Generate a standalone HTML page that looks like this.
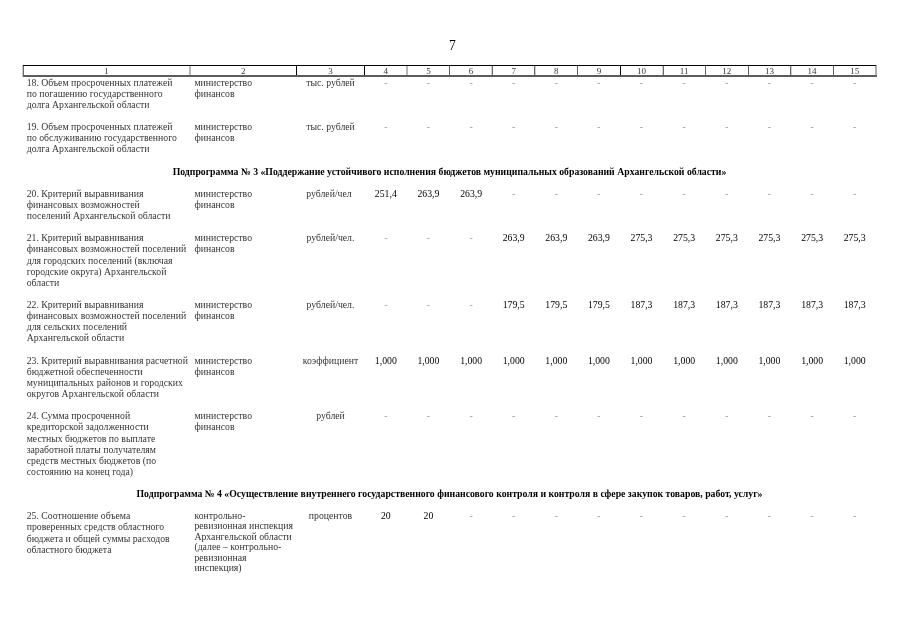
<!DOCTYPE html>
<html><head><meta charset="utf-8"><style>
html,body{margin:0;padding:0;background:#fff;}
body{width:905px;height:640px;position:relative;overflow:hidden;font-family:"Liberation Serif",serif;color:#363636;}
.wrap{position:absolute;left:0;top:0;width:905px;height:640px;filter:grayscale(1);}
.t{position:absolute;white-space:nowrap;font-size:9.75px;line-height:11.12px;}
.c{position:absolute;white-space:nowrap;font-size:9.75px;line-height:11.12px;text-align:center;}
.h{position:absolute;left:-3px;width:905px;text-align:center;white-space:nowrap;font-weight:bold;font-size:9.76px;line-height:11.12px;color:#000;}
.ln{position:absolute;background:#000;}
</style></head><body><div class="wrap">

<div class="c" style="left:402.5px;width:100px;top:38.41px;font-size:13.6px;line-height:16px;color:#000">7</div>
<div class="ln" style="left:22px;top:65px;width:1px;height:12px;background:#c8c8c8"></div>
<div class="ln" style="left:23px;top:65px;width:1px;height:12px;background:#6a6a6a"></div>
<div class="ln" style="left:189px;top:65px;width:1px;height:12px;background:#b8b8b8"></div>
<div class="ln" style="left:190px;top:65px;width:1px;height:12px;background:#b8b8b8"></div>
<div class="ln" style="left:296px;top:65px;width:1px;height:12px;background:#000"></div>
<div class="ln" style="left:364px;top:65px;width:1px;height:12px;background:#000"></div>
<div class="ln" style="left:406px;top:65px;width:1px;height:12px;background:#b8b8b8"></div>
<div class="ln" style="left:407px;top:65px;width:1px;height:12px;background:#b8b8b8"></div>
<div class="ln" style="left:449px;top:65px;width:1px;height:12px;background:#5c5c5c"></div>
<div class="ln" style="left:491px;top:65px;width:1px;height:12px;background:#d0d0d0"></div>
<div class="ln" style="left:492px;top:65px;width:1px;height:12px;background:#6a6a6a"></div>
<div class="ln" style="left:534px;top:65px;width:1px;height:12px;background:#6a6a6a"></div>
<div class="ln" style="left:535px;top:65px;width:1px;height:12px;background:#d0d0d0"></div>
<div class="ln" style="left:577px;top:65px;width:1px;height:12px;background:#5c5c5c"></div>
<div class="ln" style="left:620px;top:65px;width:1px;height:12px;background:#000"></div>
<div class="ln" style="left:662px;top:65px;width:1px;height:12px;background:#d0d0d0"></div>
<div class="ln" style="left:663px;top:65px;width:1px;height:12px;background:#6a6a6a"></div>
<div class="ln" style="left:705px;top:65px;width:1px;height:12px;background:#6a6a6a"></div>
<div class="ln" style="left:748px;top:65px;width:1px;height:12px;background:#5c5c5c"></div>
<div class="ln" style="left:790px;top:65px;width:1px;height:12px;background:#6a6a6a"></div>
<div class="ln" style="left:791px;top:65px;width:1px;height:12px;background:#d0d0d0"></div>
<div class="ln" style="left:833px;top:65px;width:1px;height:12px;background:#5c5c5c"></div>
<div class="ln" style="left:875px;top:65px;width:1px;height:12px;background:#b0b0b0"></div>
<div class="ln" style="left:876px;top:65px;width:1px;height:12px;background:#b0b0b0"></div>
<div class="ln" style="left:23px;top:65px;width:853px;height:1px;background:#000"></div>
<div class="ln" style="left:23px;top:75px;width:854px;height:2px;background:#5c5c5c"></div>
<div class="c" style="left:23.0px;width:167.0px;top:65.96px;font-size:9px;line-height:10px">1</div>
<div class="c" style="left:190.0px;width:106.5px;top:65.96px;font-size:9px;line-height:10px">2</div>
<div class="c" style="left:296.5px;width:68.0px;top:65.96px;font-size:9px;line-height:10px">3</div>
<div class="c" style="left:364.5px;width:42.6px;top:65.96px;font-size:9px;line-height:10px">4</div>
<div class="c" style="left:407.1px;width:42.6px;top:65.96px;font-size:9px;line-height:10px">5</div>
<div class="c" style="left:449.8px;width:42.6px;top:65.96px;font-size:9px;line-height:10px">6</div>
<div class="c" style="left:492.4px;width:42.6px;top:65.96px;font-size:9px;line-height:10px">7</div>
<div class="c" style="left:535.0px;width:42.6px;top:65.96px;font-size:9px;line-height:10px">8</div>
<div class="c" style="left:577.6px;width:42.6px;top:65.96px;font-size:9px;line-height:10px">9</div>
<div class="c" style="left:620.2px;width:42.6px;top:65.96px;font-size:9px;line-height:10px">10</div>
<div class="c" style="left:662.9px;width:42.6px;top:65.96px;font-size:9px;line-height:10px">11</div>
<div class="c" style="left:705.5px;width:42.6px;top:65.96px;font-size:9px;line-height:10px">12</div>
<div class="c" style="left:748.1px;width:42.6px;top:65.96px;font-size:9px;line-height:10px">13</div>
<div class="c" style="left:790.8px;width:42.6px;top:65.96px;font-size:9px;line-height:10px">14</div>
<div class="c" style="left:833.4px;width:42.6px;top:65.96px;font-size:9px;line-height:10px">15</div>
<div class="t" style="left:26.7px;top:76.65px">18. Объем просроченных платежей<br>по погашению государственного<br>долга Архангельской области</div>
<div class="t" style="left:194.4px;top:76.65px;line-height:11.12px">министерство<br>финансов</div>
<div class="c" style="left:296.5px;width:68.0px;top:76.65px">тыс. рублей</div>
<div class="c" style="left:364.5px;width:42.6px;top:76.65px;color:#9a9a9a">-</div>
<div class="c" style="left:407.1px;width:42.6px;top:76.65px;color:#9a9a9a">-</div>
<div class="c" style="left:449.8px;width:42.6px;top:76.65px;color:#9a9a9a">-</div>
<div class="c" style="left:492.4px;width:42.6px;top:76.65px;color:#9a9a9a">-</div>
<div class="c" style="left:535.0px;width:42.6px;top:76.65px;color:#9a9a9a">-</div>
<div class="c" style="left:577.6px;width:42.6px;top:76.65px;color:#9a9a9a">-</div>
<div class="c" style="left:620.2px;width:42.6px;top:76.65px;color:#9a9a9a">-</div>
<div class="c" style="left:662.9px;width:42.6px;top:76.65px;color:#9a9a9a">-</div>
<div class="c" style="left:705.5px;width:42.6px;top:76.65px;color:#9a9a9a">-</div>
<div class="c" style="left:748.1px;width:42.6px;top:76.65px;color:#9a9a9a">-</div>
<div class="c" style="left:790.8px;width:42.6px;top:76.65px;color:#9a9a9a">-</div>
<div class="c" style="left:833.4px;width:42.6px;top:76.65px;color:#9a9a9a">-</div>
<div class="t" style="left:26.7px;top:121.13px">19. Объем просроченных платежей<br>по обслуживанию государственного<br>долга Архангельской области</div>
<div class="t" style="left:194.4px;top:121.13px;line-height:11.12px">министерство<br>финансов</div>
<div class="c" style="left:296.5px;width:68.0px;top:121.13px">тыс. рублей</div>
<div class="c" style="left:364.5px;width:42.6px;top:121.13px;color:#9a9a9a">-</div>
<div class="c" style="left:407.1px;width:42.6px;top:121.13px;color:#9a9a9a">-</div>
<div class="c" style="left:449.8px;width:42.6px;top:121.13px;color:#9a9a9a">-</div>
<div class="c" style="left:492.4px;width:42.6px;top:121.13px;color:#9a9a9a">-</div>
<div class="c" style="left:535.0px;width:42.6px;top:121.13px;color:#9a9a9a">-</div>
<div class="c" style="left:577.6px;width:42.6px;top:121.13px;color:#9a9a9a">-</div>
<div class="c" style="left:620.2px;width:42.6px;top:121.13px;color:#9a9a9a">-</div>
<div class="c" style="left:662.9px;width:42.6px;top:121.13px;color:#9a9a9a">-</div>
<div class="c" style="left:705.5px;width:42.6px;top:121.13px;color:#9a9a9a">-</div>
<div class="c" style="left:748.1px;width:42.6px;top:121.13px;color:#9a9a9a">-</div>
<div class="c" style="left:790.8px;width:42.6px;top:121.13px;color:#9a9a9a">-</div>
<div class="c" style="left:833.4px;width:42.6px;top:121.13px;color:#9a9a9a">-</div>
<div class="t" style="left:26.7px;top:187.85px">20. Критерий выравнивания<br>финансовых возможностей<br>поселений Архангельской области</div>
<div class="t" style="left:194.4px;top:187.85px;line-height:11.12px">министерство<br>финансов</div>
<div class="c" style="left:295.0px;width:68.0px;top:187.85px">рублей/чел</div>
<div class="c" style="left:364.5px;width:42.6px;top:187.85px;color:#000">251,4</div>
<div class="c" style="left:407.1px;width:42.6px;top:187.85px;color:#000">263,9</div>
<div class="c" style="left:449.8px;width:42.6px;top:187.85px;color:#000">263,9</div>
<div class="c" style="left:492.4px;width:42.6px;top:187.85px;color:#9a9a9a">-</div>
<div class="c" style="left:535.0px;width:42.6px;top:187.85px;color:#9a9a9a">-</div>
<div class="c" style="left:577.6px;width:42.6px;top:187.85px;color:#9a9a9a">-</div>
<div class="c" style="left:620.2px;width:42.6px;top:187.85px;color:#9a9a9a">-</div>
<div class="c" style="left:662.9px;width:42.6px;top:187.85px;color:#9a9a9a">-</div>
<div class="c" style="left:705.5px;width:42.6px;top:187.85px;color:#9a9a9a">-</div>
<div class="c" style="left:748.1px;width:42.6px;top:187.85px;color:#9a9a9a">-</div>
<div class="c" style="left:790.8px;width:42.6px;top:187.85px;color:#9a9a9a">-</div>
<div class="c" style="left:833.4px;width:42.6px;top:187.85px;color:#9a9a9a">-</div>
<div class="t" style="left:26.7px;top:232.33px">21. Критерий выравнивания<br>финансовых возможностей поселений<br>для городских поселений (включая<br>городские округа) Архангельской<br>области</div>
<div class="t" style="left:194.4px;top:232.33px;line-height:11.12px">министерство<br>финансов</div>
<div class="c" style="left:296.5px;width:68.0px;top:232.33px">рублей/чел.</div>
<div class="c" style="left:364.5px;width:42.6px;top:232.33px;color:#9a9a9a">-</div>
<div class="c" style="left:407.1px;width:42.6px;top:232.33px;color:#9a9a9a">-</div>
<div class="c" style="left:449.8px;width:42.6px;top:232.33px;color:#9a9a9a">-</div>
<div class="c" style="left:492.4px;width:42.6px;top:232.33px;color:#000">263,9</div>
<div class="c" style="left:535.0px;width:42.6px;top:232.33px;color:#000">263,9</div>
<div class="c" style="left:577.6px;width:42.6px;top:232.33px;color:#000">263,9</div>
<div class="c" style="left:620.2px;width:42.6px;top:232.33px;color:#000">275,3</div>
<div class="c" style="left:662.9px;width:42.6px;top:232.33px;color:#000">275,3</div>
<div class="c" style="left:705.5px;width:42.6px;top:232.33px;color:#000">275,3</div>
<div class="c" style="left:748.1px;width:42.6px;top:232.33px;color:#000">275,3</div>
<div class="c" style="left:790.8px;width:42.6px;top:232.33px;color:#000">275,3</div>
<div class="c" style="left:833.4px;width:42.6px;top:232.33px;color:#000">275,3</div>
<div class="t" style="left:26.7px;top:299.05px">22. Критерий выравнивания<br>финансовых возможностей поселений<br>для сельских поселений<br>Архангельской области</div>
<div class="t" style="left:194.4px;top:299.05px;line-height:11.12px">министерство<br>финансов</div>
<div class="c" style="left:296.5px;width:68.0px;top:299.05px">рублей/чел.</div>
<div class="c" style="left:364.5px;width:42.6px;top:299.05px;color:#9a9a9a">-</div>
<div class="c" style="left:407.1px;width:42.6px;top:299.05px;color:#9a9a9a">-</div>
<div class="c" style="left:449.8px;width:42.6px;top:299.05px;color:#9a9a9a">-</div>
<div class="c" style="left:492.4px;width:42.6px;top:299.05px;color:#000">179,5</div>
<div class="c" style="left:535.0px;width:42.6px;top:299.05px;color:#000">179,5</div>
<div class="c" style="left:577.6px;width:42.6px;top:299.05px;color:#000">179,5</div>
<div class="c" style="left:620.2px;width:42.6px;top:299.05px;color:#000">187,3</div>
<div class="c" style="left:662.9px;width:42.6px;top:299.05px;color:#000">187,3</div>
<div class="c" style="left:705.5px;width:42.6px;top:299.05px;color:#000">187,3</div>
<div class="c" style="left:748.1px;width:42.6px;top:299.05px;color:#000">187,3</div>
<div class="c" style="left:790.8px;width:42.6px;top:299.05px;color:#000">187,3</div>
<div class="c" style="left:833.4px;width:42.6px;top:299.05px;color:#000">187,3</div>
<div class="t" style="left:26.7px;top:354.65px">23. Критерий выравнивания расчетной<br>бюджетной обеспеченности<br>муниципальных районов и городских<br>округов Архангельской области</div>
<div class="t" style="left:194.4px;top:354.65px;line-height:11.12px">министерство<br>финансов</div>
<div class="c" style="left:296.5px;width:68.0px;top:354.65px">коэффициент</div>
<div class="c" style="left:364.5px;width:42.6px;top:354.65px;color:#000">1,000</div>
<div class="c" style="left:407.1px;width:42.6px;top:354.65px;color:#000">1,000</div>
<div class="c" style="left:449.8px;width:42.6px;top:354.65px;color:#000">1,000</div>
<div class="c" style="left:492.4px;width:42.6px;top:354.65px;color:#000">1,000</div>
<div class="c" style="left:535.0px;width:42.6px;top:354.65px;color:#000">1,000</div>
<div class="c" style="left:577.6px;width:42.6px;top:354.65px;color:#000">1,000</div>
<div class="c" style="left:620.2px;width:42.6px;top:354.65px;color:#000">1,000</div>
<div class="c" style="left:662.9px;width:42.6px;top:354.65px;color:#000">1,000</div>
<div class="c" style="left:705.5px;width:42.6px;top:354.65px;color:#000">1,000</div>
<div class="c" style="left:748.1px;width:42.6px;top:354.65px;color:#000">1,000</div>
<div class="c" style="left:790.8px;width:42.6px;top:354.65px;color:#000">1,000</div>
<div class="c" style="left:833.4px;width:42.6px;top:354.65px;color:#000">1,000</div>
<div class="t" style="left:26.7px;top:410.25px">24. Сумма просроченной<br>кредиторской задолженности<br>местных бюджетов по выплате<br>заработной платы получателям<br>средств местных бюджетов (по<br>состоянию на конец года)</div>
<div class="t" style="left:194.4px;top:410.25px;line-height:11.12px">министерство<br>финансов</div>
<div class="c" style="left:296.5px;width:68.0px;top:410.25px">рублей</div>
<div class="c" style="left:364.5px;width:42.6px;top:410.25px;color:#9a9a9a">-</div>
<div class="c" style="left:407.1px;width:42.6px;top:410.25px;color:#9a9a9a">-</div>
<div class="c" style="left:449.8px;width:42.6px;top:410.25px;color:#9a9a9a">-</div>
<div class="c" style="left:492.4px;width:42.6px;top:410.25px;color:#9a9a9a">-</div>
<div class="c" style="left:535.0px;width:42.6px;top:410.25px;color:#9a9a9a">-</div>
<div class="c" style="left:577.6px;width:42.6px;top:410.25px;color:#9a9a9a">-</div>
<div class="c" style="left:620.2px;width:42.6px;top:410.25px;color:#9a9a9a">-</div>
<div class="c" style="left:662.9px;width:42.6px;top:410.25px;color:#9a9a9a">-</div>
<div class="c" style="left:705.5px;width:42.6px;top:410.25px;color:#9a9a9a">-</div>
<div class="c" style="left:748.1px;width:42.6px;top:410.25px;color:#9a9a9a">-</div>
<div class="c" style="left:790.8px;width:42.6px;top:410.25px;color:#9a9a9a">-</div>
<div class="c" style="left:833.4px;width:42.6px;top:410.25px;color:#9a9a9a">-</div>
<div class="t" style="left:26.7px;top:510.33px">25. Соотношение объема<br>проверенных средств областного<br>бюджета и общей суммы расходов<br>областного бюджета</div>
<div class="t" style="left:194.4px;top:510.64px;line-height:10.50px">контрольно-<br>ревизионная инспекция<br>Архангельской области<br>(далее – контрольно-<br>ревизионная<br>инспекция)</div>
<div class="c" style="left:296.5px;width:68.0px;top:510.33px">процентов</div>
<div class="c" style="left:364.5px;width:42.6px;top:510.33px;color:#000">20</div>
<div class="c" style="left:407.1px;width:42.6px;top:510.33px;color:#000">20</div>
<div class="c" style="left:449.8px;width:42.6px;top:510.33px;color:#9a9a9a">-</div>
<div class="c" style="left:492.4px;width:42.6px;top:510.33px;color:#9a9a9a">-</div>
<div class="c" style="left:535.0px;width:42.6px;top:510.33px;color:#9a9a9a">-</div>
<div class="c" style="left:577.6px;width:42.6px;top:510.33px;color:#9a9a9a">-</div>
<div class="c" style="left:620.2px;width:42.6px;top:510.33px;color:#9a9a9a">-</div>
<div class="c" style="left:662.9px;width:42.6px;top:510.33px;color:#9a9a9a">-</div>
<div class="c" style="left:705.5px;width:42.6px;top:510.33px;color:#9a9a9a">-</div>
<div class="c" style="left:748.1px;width:42.6px;top:510.33px;color:#9a9a9a">-</div>
<div class="c" style="left:790.8px;width:42.6px;top:510.33px;color:#9a9a9a">-</div>
<div class="c" style="left:833.4px;width:42.6px;top:510.33px;color:#9a9a9a">-</div>
<div class="h" style="top:165.63px">Подпрограмма № 3 «Поддержание устойчивого исполнения бюджетов муниципальных образований Архангельской области»</div>
<div class="h" style="top:488.11px">Подпрограмма № 4 «Осуществление внутреннего государственного финансового контроля и контроля в сфере закупок товаров, работ, услуг»</div>
</div></body></html>
